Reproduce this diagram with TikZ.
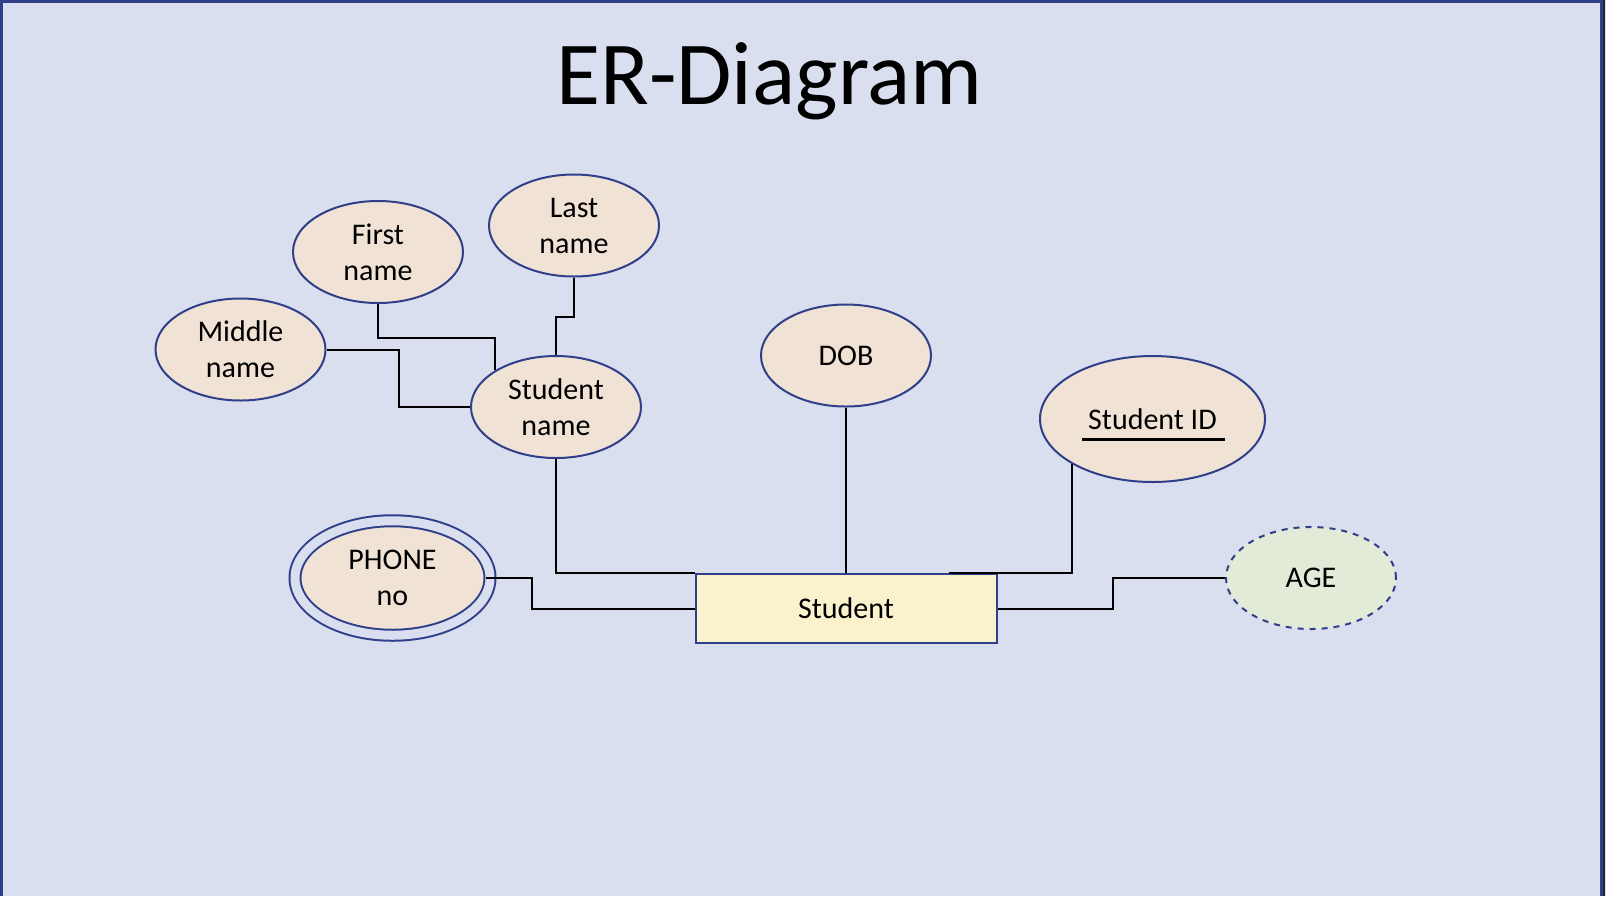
\documentclass[tikz,border=0pt]{standalone}
\usepackage{fontspec}
\setmainfont{Carlito}
\usetikzlibrary{shapes.geometric}

\definecolor{slide}{HTML}{D9DFEF}
\definecolor{frame}{HTML}{2F3F8A}
\definecolor{attrfill}{HTML}{F0E3D5}
\definecolor{entfill}{HTML}{FAF1CD}
\definecolor{derfill}{HTML}{E2EBD7}

% key attribute: text with a thick rule under it
\newcommand{\keyattr}[1]{\setbox0\hbox{#1}\leavevmode
  \rlap{\kern-3pt\rule[-5.75pt]{\dimexpr\wd0+7pt\relax}{1.5pt}}\box0}

\begin{document}
\begin{tikzpicture}[x=0.5pt,y=-0.5pt,
    attr/.style={ellipse,draw=frame,line width=1pt,fill=attrfill,
      minimum width=85pt,minimum height=51pt,inner sep=0pt,align=center,
      font=\fontsize{15}{18}\selectfont},
    ent/.style={rectangle,draw=frame,line width=1pt,fill=entfill,
      minimum width=150.5pt,minimum height=34.5pt,inner sep=0pt,
      font=\fontsize{15}{18}\selectfont},
    link/.style={draw=black,line width=1pt}]

  % slide
  \useasboundingbox (0,0) rectangle (1606,896);
  \fill[slide] (0,0) rectangle (1606,896);
  \draw[frame,line width=1.25pt] (1.25,896) -- (1.25,1.25)
    -- (1601.5,1.25) -- (1601.5,896);
  \fill[black!85] (1603,0) rectangle (1605,896);

  % title
  \node[anchor=base,font=\fontsize{45}{54}\selectfont] (title)
    at (769.5,104) {ER-Diagram};

  % entity
  \node[ent] (stu) at (846,608.5) {Student};

  % attributes
  \node[attr] (middle) at (240.5,349.5) {Middle\\name};
  \node[attr] (first) at (378,252) {First\\name};
  \node[attr] (last) at (574,225.5) {Last\\name};
  \node[attr] (sname) at (556,407) {Student\\name};
  \node[attr] (dob) at (846,355.5) {DOB};
  \node[attr,minimum width=112.5pt,minimum height=63pt,
    text height=16.3pt,text depth=5.75pt] (sid)
    at (1152.5,419) {\keyattr{Student ID}};
  \node[attr,minimum width=97.5pt,minimum height=57.25pt,
    double=slide,double distance=4.5pt] (phone)
    at (392.5,578) {PHONE\\no};
  \node[attr,fill=derfill,dashed] (age) at (1311,578) {AGE};

  % composite attribute links
  \draw[link] (first.south) -- ++(0,34) -| (sname.149);
  \draw[link] (middle.east) -- ++(72,0) |- (sname.west);
  \draw[link] (last.south) -- ++(0,39) -| (sname.north);

  % entity links
  \draw[link] (sname.south) |- (stu.north west);
  \draw[link] (dob.south) -- (dob.south |- stu.north);
  \draw[link] (sid.209) |- ([xshift=-24.5pt]stu.north east);
  \draw[link] ([xshift=-2.75pt]phone.east) -- ++(46,0) |- (stu.west);
  \draw[link] (stu.east) -- ++(115,0) |- (age.west);
\end{tikzpicture}
\end{document}
